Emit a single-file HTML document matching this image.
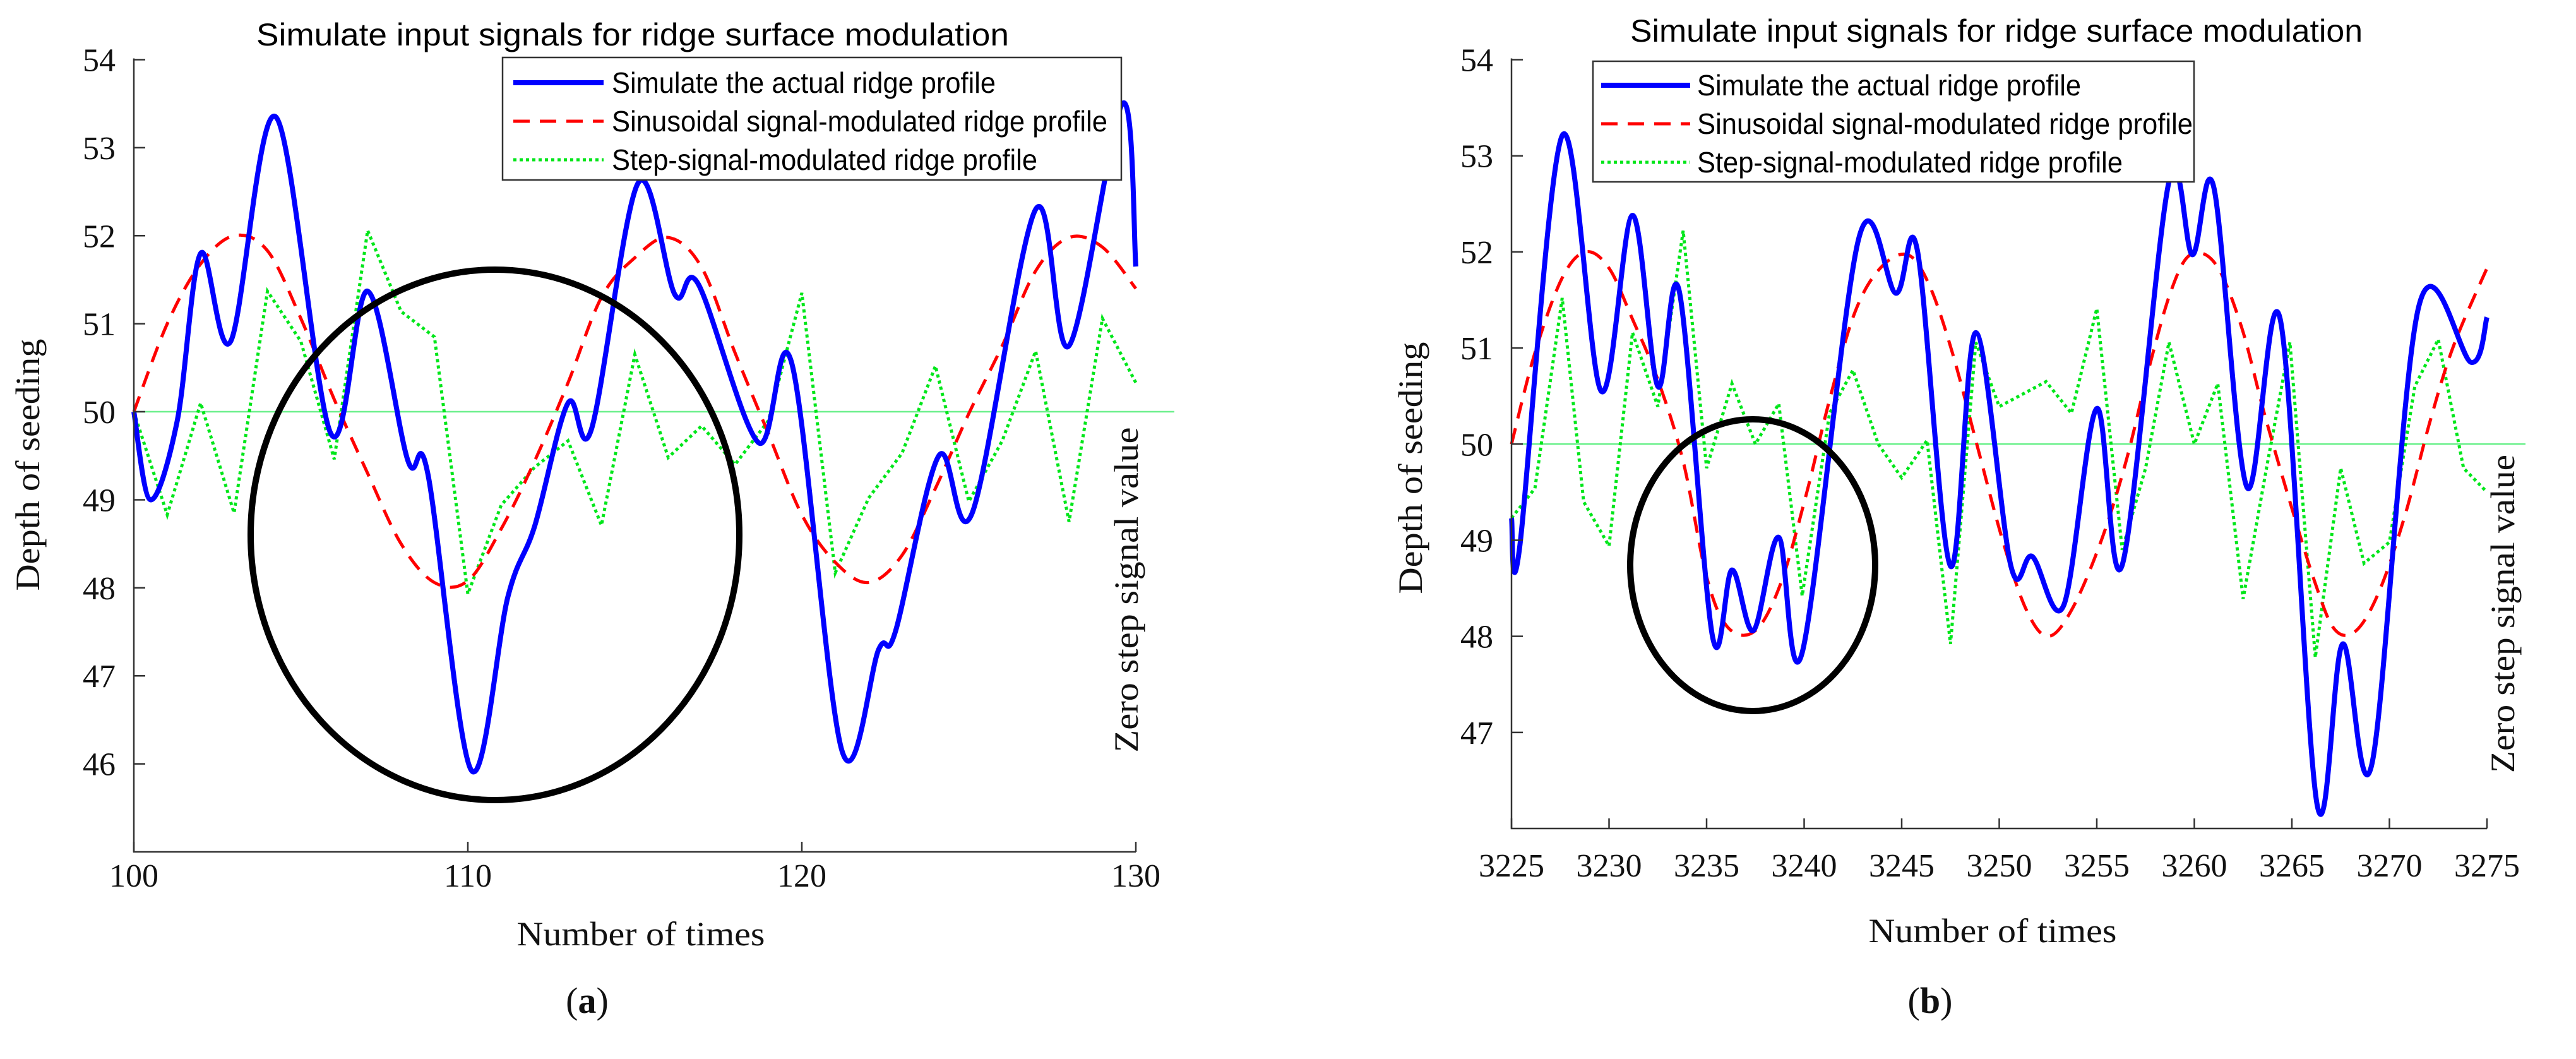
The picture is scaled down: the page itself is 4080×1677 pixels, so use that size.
<!DOCTYPE html>
<html><head><meta charset="utf-8"><style>
html,body{margin:0;padding:0;background:#fff;}
svg{display:block;}
.sans{font-family:"Liberation Sans",Arial,sans-serif;}
.serif{font-family:"Liberation Serif","Times New Roman",serif;}
</style></head>
<body>
<svg id="fig" width="4080" height="1677" viewBox="0 0 4080 1677" xmlns="http://www.w3.org/2000/svg">
<rect width="4080" height="1677" fill="#fff"/>
<g id="chartA"></g>
<g id="chartB"></g>
</svg>
<script>
// ---------- Chart A data ----------
const aBlueX = [100,100.5,101.3,102,102.9,104.25,105.9,107,108.2,108.8,110.1,111.2,112,113,113.7,115.1,116.2,116.9,118.7,119.7,121.2,122.3,122.8,124.1,125.1,127,128,129.6,130];
const aBlueY = [50,49.0,49.9,51.8,50.8,53.35,49.75,51.37,49.45,49.3,45.93,47.9,48.7,50.1,49.8,52.6,51.33,51.45,49.65,50.55,46.15,47.3,47.5,49.5,48.85,52.3,50.75,53.5,51.65];
const aRedX = [100,101,102,103,104,105,106,107,108,109,110,111,112,113,114,115,116,117,118,119,120,121,122,123,124,125,126,127,128,129,130];
const aRedY = [50.0,51.0,51.68,52.0,51.83,51.06,50.14,49.3,48.5,48.06,48.08,48.67,49.44,50.33,51.3,51.75,51.98,51.64,50.67,49.75,48.83,48.29,48.06,48.37,49.13,49.98,50.75,51.6,51.98,51.87,51.4];
const aGreenX = aRedX;
const aGreenY = [50.0,48.83,50.1,48.85,51.37,50.8,49.46,52.06,51.14,50.85,47.93,48.94,49.37,49.67,48.71,50.65,49.48,49.84,49.4,49.9,51.35,48.17,49.02,49.53,50.52,48.98,49.67,50.69,48.75,51.06,50.33];
const aXTicks = [100,110,120,130];
const aYTicks = [46,47,48,49,50,51,52,53,54];

// ---------- Chart B data ----------
const bBlueX = [3225,3225.4,3227.6,3229.6,3231.2,3232.5,3233.6,3235.3,3236.3,3237.4,3238.7,3239.9,3242.8,3244.7,3245.8,3247.5,3248.8,3250.6,3251.7,3253.3,3255.0,3256.3,3258.7,3259.9,3261.0,3262.7,3264.4,3266.3,3267.6,3269.1,3271.5,3274.2,3275];
const bBlueY = [49.23,48.9,53.21,50.55,52.38,50.6,51.59,48.0,48.69,48.06,49.03,47.83,52.14,51.57,52.02,48.73,51.16,48.73,48.83,48.32,50.37,48.74,52.73,51.97,52.67,49.55,51.3,46.24,47.92,46.67,51.43,50.85,51.32];
const bRedX = [3225,3226.2,3227.6,3228.8,3230,3231.2,3232.5,3233.8,3235,3236.1,3237.5,3238.8,3240.1,3241.3,3242.6,3243.9,3245.3,3246.4,3247.6,3248.9,3250.2,3251.4,3252.5,3253.7,3255.2,3256.5,3257.7,3258.8,3259.8,3261.1,3262.4,3263.6,3264.9,3266.2,3267.2,3268.3,3269.5,3270.8,3272.1,3273.3,3275];
const bRedY = [50.0,50.95,51.73,52.0,51.83,51.3,50.67,49.82,48.62,48.09,48.06,48.55,49.47,50.46,51.37,51.83,51.97,51.66,50.95,49.96,48.98,48.27,48.0,48.27,48.98,49.82,50.81,51.59,51.97,51.87,51.23,50.31,49.4,48.55,48.07,48.06,48.48,49.26,50.25,51.03,51.83];
const bGreenX = [3225,3226.2,3227.6,3228.7,3230,3231.2,3232.5,3233.8,3235,3236.3,3237.5,3238.7,3239.9,3241.3,3242.5,3243.8,3245,3246.3,3247.5,3248.8,3250,3252.4,3253.7,3255,3256.3,3257.5,3258.7,3260,3261.2,3262.5,3263.7,3264.9,3266.2,3267.5,3268.7,3270,3271.3,3272.5,3273.8,3275];
const bGreenY = [49.23,49.54,51.52,49.4,48.94,51.16,50.39,52.22,49.75,50.63,50.0,50.42,48.42,50.32,50.77,50.0,49.65,50.04,47.92,51.06,50.39,50.65,50.32,51.41,48.9,49.75,51.06,50.0,50.63,48.39,49.75,51.06,47.78,49.75,48.76,48.98,50.6,51.09,49.75,49.5];
const bXTicks = [3225,3230,3235,3240,3245,3250,3255,3260,3265,3270,3275];
const bYTicks = [47,48,49,50,51,52,53,54];

const NS = "http://www.w3.org/2000/svg";
function mk(parent, tag, attrs, text){
  const e = document.createElementNS(NS, tag);
  for (const k in attrs) e.setAttribute(k, attrs[k]);
  if (text !== undefined) e.textContent = text;
  parent.appendChild(e);
  return e;
}
function catmull(pts){
  let d = "M" + pts[0][0].toFixed(1) + "," + pts[0][1].toFixed(1);
  for (let i = 0; i < pts.length - 1; i++){
    const p0 = pts[i-1] || pts[i], p1 = pts[i], p2 = pts[i+1], p3 = pts[i+2] || pts[i+1];
    const c1x = p1[0] + (p2[0]-p0[0])/6, c1y = p1[1] + (p2[1]-p0[1])/6;
    const c2x = p2[0] - (p3[0]-p1[0])/6, c2y = p2[1] - (p3[1]-p1[1])/6;
    d += " C" + c1x.toFixed(1)+","+c1y.toFixed(1)+" "+c2x.toFixed(1)+","+c2y.toFixed(1)+" "+p2[0].toFixed(1)+","+p2[1].toFixed(1);
  }
  return d;
}
function linear(pts){
  return "M" + pts.map(p => p[0].toFixed(1)+","+p[1].toFixed(1)).join(" L");
}

function drawChart(g, cfg){
  const sx = v => cfg.x0 + (v - cfg.xmin) / (cfg.xmax - cfg.xmin) * (cfg.x1 - cfg.x0);
  const sy = v => cfg.yBottom - (v - cfg.ymin) / (cfg.ymax - cfg.ymin) * (cfg.yBottom - cfg.yTop);

  const zl = mk(g, "line", {x1: cfg.x0, x2: cfg.zeroEnd, y1: sy(50), y2: sy(50), stroke: "#6cf08c", "stroke-width": 2.5});
  
  

  const ptsG = cfg.gx.map((x,i) => [sx(x), sy(cfg.gy[i])]);
  const pg = mk(g, "path", {d: linear(ptsG), fill: "none", stroke: "#00e61a", "stroke-width": 5, "stroke-dasharray": "5 5"});
  
  

  const ptsR = cfg.rx.map((x,i) => [sx(x), sy(cfg.ry[i])]);
  const pr = mk(g, "path", {d: catmull(ptsR), fill: "none", stroke: "#ff0000", "stroke-width": 5, "stroke-dasharray": "26 16"});
  
  

  const ptsB = cfg.bx.map((x,i) => [sx(x), sy(cfg.by[i])]);
  const pb = mk(g, "path", {d: catmull(ptsB), fill: "none", stroke: "#0000ff", "stroke-width": 8, "stroke-linejoin": "round"});
  
  

  const el = mk(g, "ellipse", {cx: cfg.ell[0], cy: cfg.ell[1], rx: cfg.ell[2], ry: cfg.ell[3], fill: "none", stroke: "#000", "stroke-width": 10});
  
  

  const ax = mk(g, "path", {d: "M"+cfg.x0+","+(cfg.yTop-2)+" L"+cfg.x0+","+cfg.yBottom+" L"+sx(cfg.xmax)+","+cfg.yBottom, fill: "none", stroke: "#333", "stroke-width": 2.5});
  
  

  cfg.xt.forEach(v => {
    const t = mk(g, "line", {x1: sx(v), x2: sx(v), y1: cfg.yBottom, y2: cfg.yBottom - 16, stroke: "#333", "stroke-width": 2.5});
    
    
    const l = mk(g, "text", {x: sx(v), y: cfg.xLabY, "text-anchor": "middle", "font-size": 52, class: "serif", fill: "#111"}, String(v));
    
    
  });
  cfg.yt.forEach(v => {
    const t = mk(g, "line", {x1: cfg.x0, x2: cfg.x0 + 18, y1: sy(v), y2: sy(v), stroke: "#333", "stroke-width": 2.5});
    
    
    const l = mk(g, "text", {x: cfg.x0 - 29, y: sy(v) + 18, "text-anchor": "end", "font-size": 52, class: "serif", fill: "#111"}, String(v));
    
    
  });

  const ti = mk(g, "text", {x: cfg.title[0], y: cfg.title[1], "text-anchor": "middle", "font-size": 50, class: "sans", fill: "#000", textLength: cfg.title[2], lengthAdjust: "spacingAndGlyphs"}, "Simulate input signals for ridge surface modulation");
  
  

  const xl = mk(g, "text", {x: cfg.xTitle[0], y: cfg.xTitle[1], "text-anchor": "middle", "font-size": 54, class: "serif", fill: "#111", textLength: 393, lengthAdjust: "spacingAndGlyphs"}, "Number of times");
  
  
  const yl = mk(g, "text", {x: 0, y: 0, transform: "translate("+cfg.yTitle[0]+","+cfg.yTitle[1]+") rotate(-90)", "text-anchor": "middle", "font-size": 54, class: "serif", fill: "#111", textLength: 399, lengthAdjust: "spacingAndGlyphs"}, "Depth of seeding");
  
  
  const zt = mk(g, "text", {x: 0, y: 0, transform: "translate("+cfg.zero[0]+","+cfg.zero[1]+") rotate(-90)", "text-anchor": "middle", "font-size": 54, class: "serif", fill: "#111", textLength: cfg.zero[2], lengthAdjust: "spacingAndGlyphs"}, "Zero step signal value");
  
  

  const pl = mk(g, "text", {x: cfg.panel[0], y: cfg.panel[1], "text-anchor": "middle", "font-size": 58, class: "serif", fill: "#111"});
  
  
  mk(pl, "tspan", {}, "(");
  mk(pl, "tspan", {"font-weight": "bold"}, cfg.panel[2]);
  mk(pl, "tspan", {}, ")");

  const L = cfg.legend;
  const lg = mk(g, "g", {});
  
  
  mk(lg, "rect", {x: L[0], y: L[1], width: L[2], height: L[3], fill: "#fff", stroke: "#333", "stroke-width": 2.5});
  const items = [
    ["Simulate the actual ridge profile", "#0000ff", 8, "none"],
    ["Sinusoidal signal-modulated ridge profile", "#ff0000", 5, "26 16"],
    ["Step-signal-modulated ridge profile", "#00e61a", 5, "5 5"]
  ];
  items.forEach((it, i) => {
    const y = L[4] + i * L[5];
    const e = mk(lg, "g", {});
    
    
    mk(e, "line", {x1: L[6], x2: L[7], y1: y, y2: y, stroke: it[1], "stroke-width": it[2], "stroke-dasharray": it[3]});
    mk(e, "text", {x: L[8], y: y + 16, "font-size": 46, class: "sans", fill: "#000", textLength: [608, 785, 674][i], lengthAdjust: "spacingAndGlyphs"}, it[0]);
  });
}

drawChart(document.getElementById("chartA"), {
  x0: 212, x1: 1799, xmin: 100, xmax: 130, yTop: 94.5, yBottom: 1349, ymin: 45, ymax: 54,
  zeroEnd: 1860, bx: aBlueX, by: aBlueY, rx: aRedX, ry: aRedY, gx: aGreenX, gy: aGreenY,
  xt: aXTicks, yt: aYTicks, xLabY: 1404,
  ell: [784, 847, 387, 420],
  title: [1002, 72, 1192], xTitle: [1015, 1497], yTitle: [62, 736], zero: [1802, 934, 515],
  panel: [930, 1604, "a"],
  legend: [796, 91, 980, 194, 131, 61, 813, 956, 969]
});
drawChart(document.getElementById("chartB"), {
  x0: 2394, x1: 3939, xmin: 3225, xmax: 3275, yTop: 94.5, yBottom: 1312, ymin: 46, ymax: 54,
  zeroEnd: 4000, bx: bBlueX, by: bBlueY, rx: bRedX, ry: bRedY, gx: bGreenX, gy: bGreenY,
  xt: bXTicks, yt: bYTicks, xLabY: 1388,
  ell: [2776, 895, 194, 231],
  title: [3162, 66, 1160], xTitle: [3156, 1492], yTitle: [2252, 741], zero: [3982, 972, 504],
  panel: [3057, 1604, "b"],
  legend: [2523, 97, 952, 191, 135, 61, 2536, 2677, 2688]
});
</script>
</body></html>
